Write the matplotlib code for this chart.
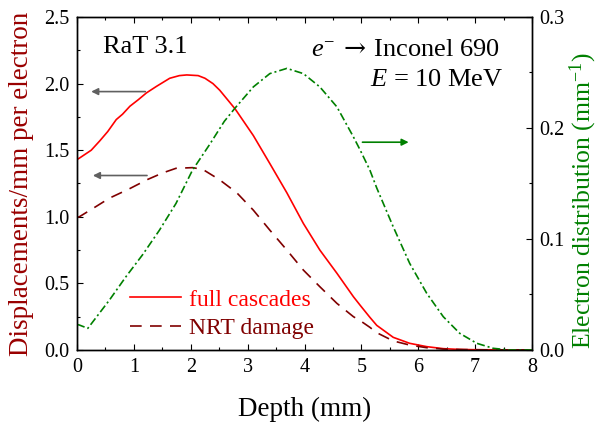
import matplotlib
matplotlib.use("Agg")
import matplotlib.pyplot as plt
from matplotlib.ticker import MultipleLocator, FormatStrFormatter

plt.rcParams["font.family"] = ["Liberation Serif", "DejaVu Serif"]
plt.rcParams["mathtext.fontset"] = "custom"
plt.rcParams["mathtext.rm"] = "Liberation Serif"
plt.rcParams["mathtext.it"] = "Liberation Serif:italic"
plt.rcParams["mathtext.sf"] = "DejaVu Serif"  # only used for the long arrow glyph

# full cascades (displacements/mm per electron)
full_x = [0.0, 0.04, 0.25, 0.4, 0.54, 0.69, 0.8, 0.93, 1.08, 1.22, 1.4, 1.63, 1.8, 1.93,
          2.13, 2.25, 2.39, 2.51, 2.78, 3.10, 3.39, 3.69, 3.98, 4.27, 4.57, 4.86, 4.98,
          5.15, 5.27, 5.56, 5.85, 6.15, 6.44, 6.73, 7.0, 7.5, 8.0]
full_y = [1.43, 1.44, 1.50, 1.57, 1.64, 1.73, 1.77, 1.83, 1.88, 1.93, 1.98, 2.04, 2.06, 2.065,
          2.06, 2.04, 2.0, 1.95, 1.81, 1.61, 1.40, 1.18, 0.95, 0.75, 0.576, 0.40, 0.335,
          0.245, 0.185, 0.095, 0.05, 0.025, 0.01, 0.004, 0.002, 0.001, 0.0]

# NRT damage
nrt_x = [0.0, 0.04, 0.33, 0.57, 0.92, 1.24, 1.51, 1.74, 2.03, 2.21, 2.50, 2.81, 3.10, 3.39,
         3.69, 3.98, 4.27, 4.57, 4.86, 4.98, 5.15, 5.27, 5.56, 5.85, 6.15, 6.44, 6.8, 7.2, 8.0]
nrt_y = [0.995, 1.0, 1.076, 1.14, 1.21, 1.28, 1.33, 1.364, 1.369, 1.356, 1.28, 1.18, 1.05, 0.90,
         0.75, 0.60, 0.475, 0.35, 0.25, 0.22, 0.17, 0.13, 0.068, 0.037, 0.017, 0.007, 0.003,
         0.001, 0.0]

# electron distribution (mm^-1), right axis
el_x = [0.0, 0.04, 0.19, 0.57, 0.86, 1.15, 1.45, 1.74, 2.03, 2.33, 2.59, 2.78, 3.10, 3.39,
        3.69, 3.98, 4.27, 4.57, 4.86, 4.98, 5.15, 5.27, 5.56, 5.85, 6.15, 6.44, 6.73, 7.03,
        7.32, 7.6, 8.0]
el_y = [0.023, 0.0225, 0.0195, 0.045, 0.066, 0.0856, 0.108, 0.132, 0.162, 0.185, 0.206, 0.218,
        0.237, 0.249, 0.2537, 0.249, 0.237, 0.219, 0.192, 0.180, 0.162, 0.146, 0.111, 0.078,
        0.051, 0.030, 0.015, 0.006, 0.0015, 0.0, 0.0]

RED = "#ff0000"
DARKRED = "#800000"
GREEN = "#008000"

fig = plt.figure(figsize=(5.98, 4.25), dpi=100)
ax = fig.add_axes([0.1288, 0.1765, 0.7608, 0.7835])
ax2 = ax.twinx()

l1, = ax.plot(full_x, full_y, color=RED, lw=1.2, label="full cascades")
l2, = ax.plot(nrt_x, nrt_y, color=DARKRED, lw=1.2, dashes=(7, 5), label="NRT damage")
ax2.plot(el_x, el_y, color=GREEN, lw=1.2, dashes=(4.8, 1.8, 1.2, 1.8))

ax.set_xlim(0, 8)
ax.set_ylim(0, 2.5)
ax2.set_ylim(0, 0.3)

ax.xaxis.set_major_locator(MultipleLocator(1))
ax.xaxis.set_minor_locator(MultipleLocator(0.5))
ax.yaxis.set_major_locator(MultipleLocator(0.5))
ax.yaxis.set_minor_locator(MultipleLocator(0.25))
ax2.yaxis.set_major_locator(MultipleLocator(0.1))
ax2.yaxis.set_minor_locator(MultipleLocator(0.05))
ax.yaxis.set_major_formatter(FormatStrFormatter("%.1f"))
ax2.yaxis.set_major_formatter(FormatStrFormatter("%.1f"))

for a in (ax, ax2):
    a.tick_params(which="both", direction="in", width=0.8, labelsize=14.5, pad=5.5)
    a.tick_params(which="major", length=4.5)
    a.tick_params(which="minor", length=2.5)
    for s in a.spines.values():
        s.set_linewidth(1.0)
ax.tick_params(which="both", top=True, right=False)
ax.tick_params(axis="x", pad=6)

ax.set_xlabel("Depth (mm)", fontsize=19.5, labelpad=14)
ax.set_ylabel("Displacements/mm per electron", fontsize=19.5, color="#990000", labelpad=7)
ax2.set_ylabel(r"Electron distribution (mm$^{\mathrm{-1}}$)", fontsize=18.5, color=GREEN)
ax2.yaxis.set_label_coords(1.078, 0.45)

# arrows pointing to the relevant axis
arrow = dict(arrowstyle="-|>", color="#606060", lw=1.2, mutation_scale=10)
ax.annotate("", xy=(0.2, 1.94), xytext=(1.25, 1.94), arrowprops=arrow)
ax.annotate("", xy=(0.23, 1.31), xytext=(1.28, 1.31), arrowprops=arrow)
ax.annotate("", xy=(5.88, 1.56), xytext=(4.97, 1.56),
            arrowprops=dict(arrowstyle="-|>", color=GREEN, lw=1.2, mutation_scale=10))

ax.text(0.057, 0.911, "RaT 3.1", transform=ax.transAxes, fontsize=19, va="center", ha="left")
ax.text(0.93, 0.901, r"$e^{-}\;\,\mathsf{→}\;\,$Inconel 690", transform=ax.transAxes,
        fontsize=19, va="center", ha="right")
ax.text(0.937, 0.811, r"$E$ = 10 MeV", transform=ax.transAxes,
        fontsize=19, va="center", ha="right")

leg = ax.legend(handles=[l1, l2], loc="lower left", bbox_to_anchor=(0.105, 0.018),
                frameon=False, fontsize=17, labelcolor="linecolor", handlelength=2.2,
                handletextpad=0.3, labelspacing=0.3, borderpad=0.2, borderaxespad=0.0)

fig.savefig("out.png", dpi=100)
